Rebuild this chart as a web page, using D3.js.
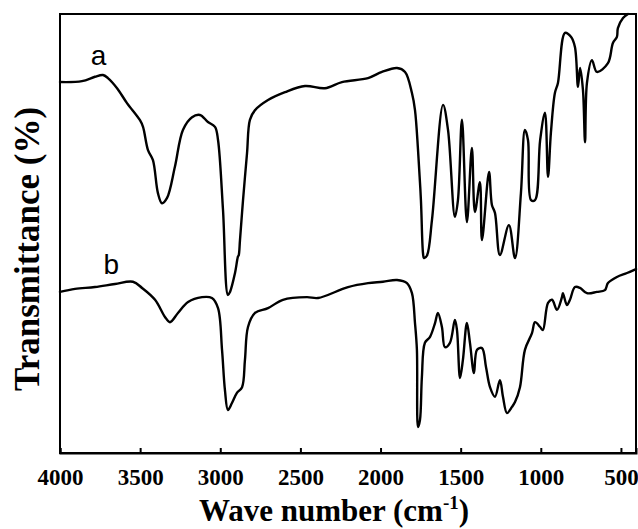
<!DOCTYPE html>
<html>
<head>
<meta charset="utf-8">
<script src="https://cdn.jsdelivr.net/npm/d3@7"></script>
<style>
  html, body { margin: 0; padding: 0; background: #fff; }
  svg { display: block; }
</style>
</head>
<body>
<svg id="chart" width="638" height="529"></svg>
<script>
// ---- data (wavenumber cm-1, transmittance in arbitrary %) ----
const xTicks = [4000, 3500, 3000, 2500, 2000, 1500, 1000, 500];
const seriesNames = ["a", "b"];

const seriesA = [
  [4000, 84.5], [3863, 84.7], [3782, 85.7], [3732, 86.1], [3701, 85.4], [3644, 83.1],
  [3582, 79.7], [3501, 75.8], [3482, 74.3], [3451, 69.0], [3420, 66.7], [3389, 59.2],
  [3364, 56.9], [3332, 58.1], [3283, 65.2], [3233, 73.6], [3176, 76.5], [3127, 77.0],
  [3077, 75.4], [3033, 74.3], [3014, 71.3], [2983, 55.4], [2952, 36.0], [2939, 36.7],
  [2908, 41.0], [2889, 44.8], [2885, 45.0], [2877, 48.5], [2858, 57.6], [2833, 68.3],
  [2815, 75.9], [2783, 78.1], [2702, 80.4], [2596, 82.2], [2471, 83.6], [2347, 83.1],
  [2241, 84.5], [2078, 85.4], [1991, 86.8], [1897, 87.7], [1847, 86.8], [1804, 82.0],
  [1785, 78.1], [1766, 69.0], [1748, 57.6], [1735, 45.5], [1729, 44.4], [1710, 45.0],
  [1679, 53.1], [1610, 79.3], [1579, 73.6], [1536, 53.8], [1517, 57.6], [1492, 75.9],
  [1461, 52.6], [1430, 69.5], [1411, 54.9], [1380, 61.7], [1367, 48.5], [1323, 64.0],
  [1305, 56.5], [1286, 54.7], [1255, 45.1], [1199, 51.9], [1161, 44.4], [1124, 59.2],
  [1099, 73.6], [1080, 71.3], [1061, 57.6], [1036, 57.6], [1004, 71.3], [974, 77.5],
  [955, 62.9], [937, 72.9], [912, 82.0], [893, 84.3], [849, 95.7], [812, 94.8],
  [787, 92.5], [768, 83.4], [755, 87.7], [737, 82.7], [724, 70.8], [712, 84.3],
  [681, 89.5], [650, 86.8], [581, 88.8], [550, 93.4], [525, 94.8], [519, 96.8],
  [487, 99.1], [456, 100]
];

const seriesB = [
  [4000, 36.7], [3906, 37.4], [3782, 37.8], [3657, 38.5], [3545, 39.0], [3488, 37.6],
  [3407, 34.9], [3345, 31.0], [3314, 29.8], [3264, 31.9], [3201, 34.4], [3114, 35.5],
  [3052, 35.3], [3014, 33.0], [2989, 23.5], [2971, 14.4], [2952, 9.8], [2927, 11.4],
  [2896, 13.7], [2864, 15.0], [2846, 21.2], [2827, 28.7], [2783, 31.9], [2702, 33.0],
  [2609, 34.9], [2459, 35.5], [2390, 35.3], [2203, 37.8], [2078, 38.7], [1985, 39.0],
  [1897, 39.4], [1835, 38.7], [1804, 36.4], [1785, 29.6], [1773, 23.5], [1766, 5.9],
  [1754, 7.5], [1742, 17.3], [1723, 25.1], [1692, 26.4], [1660, 29.6], [1642, 31.9],
  [1617, 28.7], [1598, 24.1], [1567, 25.1], [1536, 30.3], [1523, 28.0], [1504, 17.1],
  [1486, 21.2], [1461, 29.6], [1442, 25.1], [1417, 18.2], [1398, 23.5], [1367, 23.9],
  [1342, 19.6], [1317, 15.0], [1286, 12.8], [1255, 16.6], [1236, 12.8], [1211, 9.1],
  [1180, 10.5], [1161, 11.6], [1130, 15.0], [1099, 23.5], [1055, 27.3], [1036, 29.8],
  [1004, 28.7], [987, 28.0], [955, 34.2], [930, 34.9], [899, 32.6], [868, 35.5],
  [862, 36.4], [837, 33.7], [818, 34.9], [787, 37.8], [755, 37.6], [712, 36.4],
  [650, 36.7], [600, 37.1], [581, 38.7], [525, 40.1], [462, 41.0], [406, 41.9]
];

// label anchors (data coords)
const labelPos = { a: [3760, 88.4], b: [3680, 40.8] };

// ---- layout ----
const svg = d3.select("#chart");
const pLeft = 60, pRight = 636, pTop = 14, pBottom = 453;

const x = d3.scaleLinear().domain([4000, 406]).range([pLeft, pRight]);
const y = d3.scaleLinear().domain([0, 100]).range([pBottom, pTop]);

// frame
svg.append("rect")
  .attr("x", pLeft).attr("y", pTop)
  .attr("width", pRight - pLeft).attr("height", pBottom - pTop)
  .attr("fill", "none").attr("stroke", "#000").attr("stroke-width", 2);

// x axis (inward ticks)
const xAxis = d3.axisBottom(x).tickValues(xTicks).tickSize(-5).tickPadding(20)
  .tickFormat(d3.format("d"));
const gx = svg.append("g").attr("transform", `translate(0,${pBottom})`).call(xAxis);
gx.select(".domain").attr("stroke", "#000").attr("stroke-width", 2);
gx.selectAll(".tick line").attr("stroke", "#000").attr("stroke-width", 2);
gx.selectAll(".tick text")
  .attr("font-family", "'Liberation Serif', 'Times New Roman', serif")
  .attr("font-weight", "bold")
  .attr("font-size", 23)
  .attr("fill", "#000")
  .attr("dy", "0.5em");

// curves
const line = d3.line()
  .x(d => x(d[0])).y(d => y(d[1]))
  .curve(d3.curveCatmullRom.alpha(0.5));
[seriesA, seriesB].forEach(s => {
  svg.append("path")
    .datum(s)
    .attr("d", line)
    .attr("fill", "none")
    .attr("stroke", "#000")
    .attr("stroke-width", 2.4)
    .attr("stroke-linejoin", "round")
    .attr("stroke-linecap", "round");
});

// series labels
seriesNames.forEach(n => {
  svg.append("text")
    .attr("x", x(labelPos[n][0]))
    .attr("y", y(labelPos[n][1]))
    .attr("text-anchor", "middle")
    .attr("font-family", "'Liberation Sans', Arial, sans-serif")
    .attr("font-size", 28)
    .attr("fill", "#000")
    .text(n);
});

// axis titles
const xt = svg.append("text")
  .attr("x", 334).attr("y", 521)
  .attr("text-anchor", "middle")
  .attr("font-family", "'Liberation Serif', 'Times New Roman', serif")
  .attr("font-weight", "bold")
  .attr("font-size", 31)
  .attr("fill", "#000");
xt.append("tspan").text("Wave number (cm");
xt.append("tspan").attr("font-size", 19).attr("dy", -12).text("-1");
xt.append("tspan").attr("dy", 12).text(")");

svg.append("text")
  .attr("transform", "translate(39,249) rotate(-90)")
  .attr("text-anchor", "middle")
  .attr("font-family", "'Liberation Serif', 'Times New Roman', serif")
  .attr("font-weight", "bold")
  .attr("font-size", 35)
  .attr("fill", "#000")
  .text("Transmittance (%)");
</script>
</body>
</html>
